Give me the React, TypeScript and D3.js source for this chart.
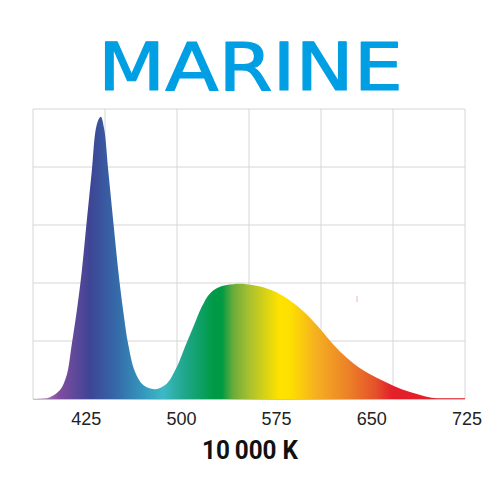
import * as React from 'react';
import * as d3 from 'd3';

// spectrum: wavelength (nm) -> relative intensity (%)
const wavelengths = [383, 393.8, 396.4, 404.3, 409.6, 413.5, 417.4, 421.4, 425.3, 429.3, 433.2, 436.4, 439, 442.4, 446.3, 450.3, 454.2, 458.1, 463.4, 469.9, 479.2, 488.4, 496.3, 502.8, 509.4, 516, 522.5, 530.4, 540.9, 551.4, 564.5, 577.7, 590.8, 601.3, 609.2, 619.7, 630.3, 640.8, 653.9, 667, 680.2, 693.3, 701.2, 723.5];
const intensity = [0, 0.3, 0.6, 3.1, 8.3, 18.7, 30.1, 43.9, 61.1, 78.4, 94.5, 97.3, 93.4, 78.4, 61.1, 43.9, 30.1, 18.7, 9.4, 4.8, 3.4, 5.3, 11, 18, 24.9, 31.8, 36.4, 38.7, 39.6, 39.6, 38.5, 36.1, 32.2, 28, 24.2, 18.8, 14.2, 10.6, 7.3, 4.6, 2.4, 0.8, 0.3, 0.3];

const tickLabels = [425, 500, 575, 650, 725];

// colour along the spectrum
const stopWavelengths = [383, 396, 404, 428, 448, 470, 485.5, 501, 525, 532, 540.6, 553.3, 577, 585.6, 606, 632, 653.4, 666, 723.5];
const stopColors = ['#b590c4', '#9a6aac', '#7f4c9f', '#3e4595', '#3568a8', '#3498bd', '#3db8c6', '#22a890', '#009a47', '#009a44', '#6aab3c', '#a8c030', '#ffe200', '#fde000', '#f5b020', '#ec8028', '#e5502a', '#e3202a', '#e3202a'];

export default function App() {
  const width = 500, height = 500;
  const left = 33, right = 465, top = 109, bottom = 399;

  const x = d3.scaleLinear().domain([383, 723.5]).range([left, right]);
  const y = d3.scaleLinear().domain([0, 100]).range([bottom, top]);
  const gridX = d3.scaleLinear().domain([0, 6]).range([left, right]);

  const pts: [number, number][] = wavelengths.map((w, i) => [w, intensity[i]]);
  const area = d3.area<[number, number]>()
    .x(d => x(d[0]))
    .y0(y(0))
    .y1(d => Math.min(y(0), y(d[1])))
    .curve(d3.curveCatmullRom.alpha(0.5));

  return (
    <svg width={width} height={height} style={{ position: 'absolute', left: 0, top: 0 }}>
      <defs>
        <linearGradient id="spectrum" gradientUnits="userSpaceOnUse" x1={left} x2={right} y1={0} y2={0}>
          {stopWavelengths.map((w, i) => (
            <stop key={i} offset={(x(w) - left) / (right - left)} stopColor={stopColors[i]} />
          ))}
        </linearGradient>
      </defs>

      <text x={250.5} y={90} textAnchor="middle" fontFamily="DejaVu Sans" fontSize={66}
        fill="#009fe3" stroke="#009fe3" strokeWidth={1.2} strokeLinejoin="round"
        textLength={305} lengthAdjust="spacingAndGlyphs">MARINE</text>

      {/* grid */}
      <g stroke="#d6d6d6" strokeWidth={1}>
        {y.ticks(5).map(t => (
          <line key={'h' + t} x1={left} x2={right} y1={y(t)} y2={y(t)} />
        ))}
        {d3.range(7).map(k => (
          <line key={'v' + k} x1={gridX(k)} x2={gridX(k)} y1={top} y2={bottom} />
        ))}
      </g>

      <path d={area(pts)!} fill="url(#spectrum)" />
      <line x1={left} x2={right} y1={bottom + 0.5} y2={bottom + 0.5} stroke="#c4c4c4" strokeWidth={1.2} />
      {/* small speck in the original */}
      <line x1={x(638.4)} x2={x(638.4)} y1={y(35.5)} y2={y(33.4)} stroke="#e8b4be" strokeWidth={1} />

      <g fontFamily="Liberation Sans, Arial, sans-serif" fontSize={18} fill="#222" textAnchor="middle">
        {tickLabels.map(t => (
          <text key={t} x={x(t)} y={425}>{t}</text>
        ))}
      </g>

      <text x={250} y={459} textAnchor="middle" fontFamily="Liberation Sans Narrow, Roboto, sans-serif"
        fontWeight="bold" fontSize={26} fill="#111" textLength={96} lengthAdjust="spacingAndGlyphs">{'10\u2009000 K'}</text>
    </svg>
  );
}
